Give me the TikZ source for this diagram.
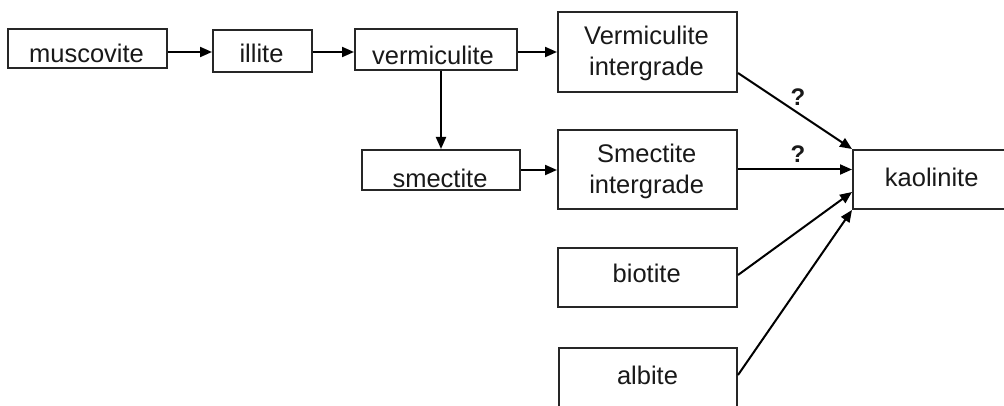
\documentclass[tikz,border=0pt]{standalone}
\usepackage{fontspec}
\setmainfont{Liberation Sans}
\usetikzlibrary{arrows.meta}
\begin{document}
\begin{tikzpicture}[x=1pt,y=-1pt,
  box/.style={draw=black!85, line width=2pt, rectangle, inner sep=0pt},
  lbl/.style={font=\fontsize{25.5}{31}\selectfont, align=center, inner sep=0pt, text=black!90},
  qm/.style={font=\fontsize{24}{28}\selectfont\bfseries, inner sep=0pt, text=black!90},
  arr/.style={line width=2pt, -{Triangle[length=12pt,width=10pt]}}]
\useasboundingbox (0,0) rectangle (1004,406);
\clip (0,0) rectangle (1004,406);
\fill[white] (0,0) rectangle (1004,406);
% boxes
\node[box, minimum width=159pt, minimum height=39pt] (mus) at (87.5,48.5) {};
\node[box, minimum width=99pt, minimum height=42pt] (ill) at (262.5,51) {};
\node[box, minimum width=162pt, minimum height=41pt] (ver) at (436,49.5) {};
\node[box, minimum width=179pt, minimum height=80pt] (vi) at (647.5,52) {};
\node[box, minimum width=158pt, minimum height=40pt] (sme) at (441,170) {};
\node[box, minimum width=179pt, minimum height=79pt] (si) at (647.5,169.5) {};
\node[box, minimum width=179pt, minimum height=59pt] (bio) at (647.5,277.5) {};
\node[box, minimum width=178pt, minimum height=70pt] (alb) at (648,383) {};
\node[box, minimum width=177pt, minimum height=59pt] (kao) at (941.5,179.5) {};
% labels
\node[lbl] (musT) at (86.5,53) {muscovite};
\node[lbl] (illT) at (261.5,53) {illite};
\node[lbl] (verT) at (433,55) {vermiculite};
\node[lbl] (viT) at (646.5,53.5) {Vermiculite\\intergrade};
\node[lbl] (smeT) at (440,178) {smectite};
\node[lbl] (siT) at (646.7,171) {Smectite\\intergrade};
\node[lbl] (bioT) at (646.7,273) {biotite};
\node[lbl] (albT) at (647.5,375) {albite};
\node[lbl] (kaoT) at (931.7,177) {kaolinite};
% connectors
\draw[arr] ([yshift=-3.5pt]mus.east) -- ([yshift=-3.5pt]mus.east -| ill.west);
\draw[arr] ([yshift=-1pt]ill.east) -- ([yshift=-1pt]ill.east -| ver.west);
\draw[arr] ([yshift=-2.5pt]ver.east) -- ([yshift=-2.5pt]ver.east -| vi.west);
\draw[arr] (ver.south -| sme.north) -- (sme.north);
\draw[arr] (sme.east) -- (sme.east -| si.west);
\draw[arr] ([yshift=20pt]vi.south east) -- (kao.north west);
\draw[arr] (si.east) -- (si.east -| kao.west);
\draw[arr] ([yshift=2.5pt]bio.east) -- ([yshift=-12.5pt]kao.west);
\draw[arr] ([yshift=8pt]alb.east) -- (kao.south west);
\node[qm] (q1) at (798,97) {?};
\node[qm] (q2) at (798,154) {?};
\end{tikzpicture}
\end{document}
